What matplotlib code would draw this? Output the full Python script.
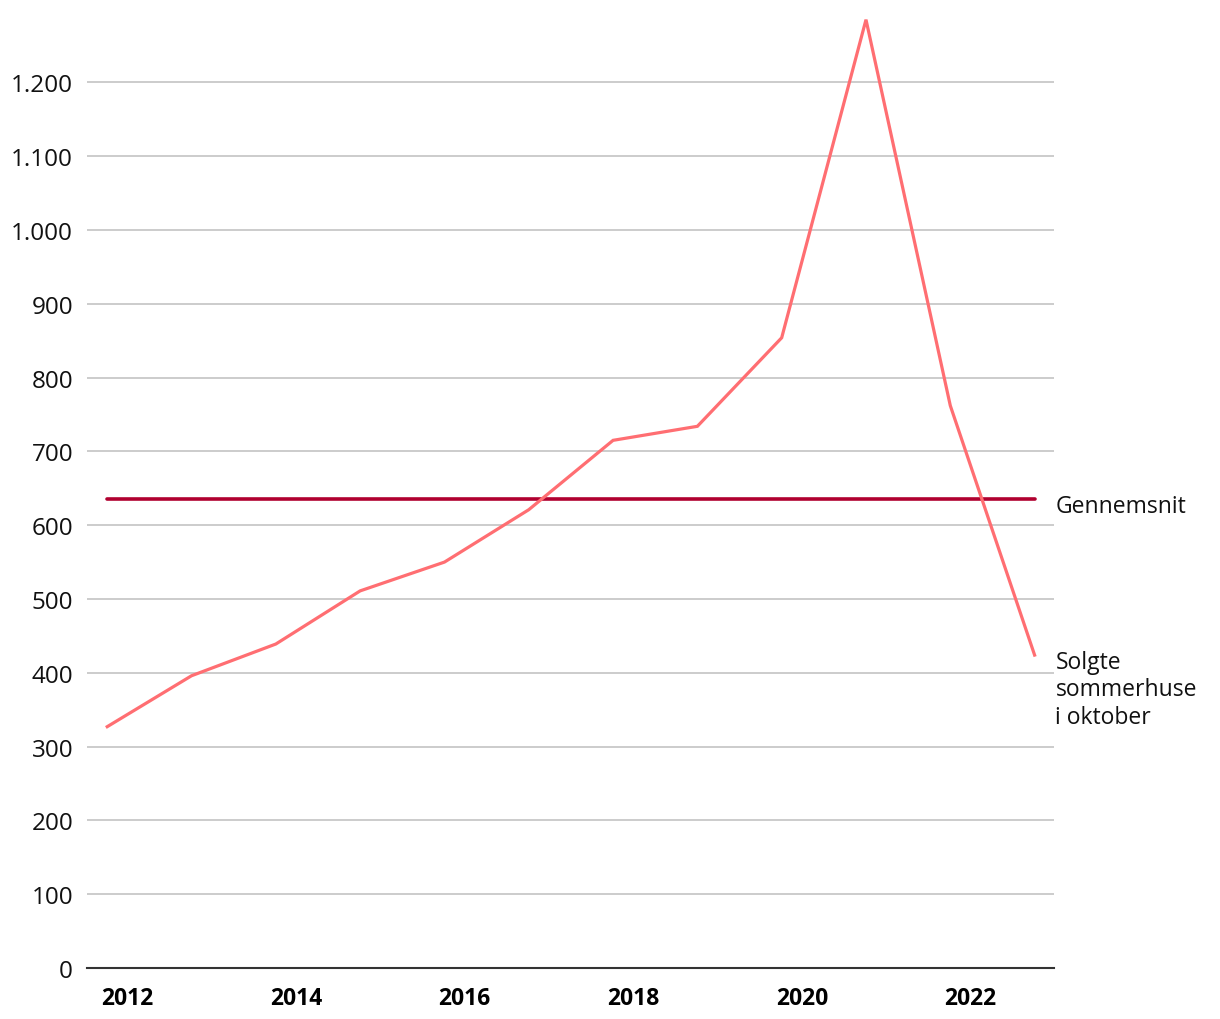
import matplotlib
matplotlib.use("Agg")
import matplotlib.pyplot as plt
import numpy as np
from matplotlib.ticker import FuncFormatter

# Solgte sommerhuse i oktober
years = [2012, 2013, 2014, 2015, 2016, 2017, 2018, 2019, 2020, 2021, 2022, 2023]
sold = [327, 396, 439, 511, 550, 621, 715, 734, 854, 1285, 762, 424]
tick_years = [2012, 2014, 2016, 2018, 2020, 2022]
y_ticks = list(range(0, 1300, 100))

avg = np.mean(sold)

plt.rcParams["font.family"] = ["Open Sans", "DejaVu Sans"]

fig = plt.figure(figsize=(12.2, 10.2), dpi=100)
W, H = 1220, 1020
left, right, bottom, top = 87, 1054, 969, 9.6
ax = fig.add_axes([left / W, (H - bottom) / H, (right - left) / W, (bottom - top) / H])

ax.set_ylim(0, 1300)
ax.set_xlim(years[0] - 0.24, years[-1] + 0.23)

ax.set_yticks(y_ticks)
ax.yaxis.set_major_formatter(FuncFormatter(lambda v, p: f"{int(v):,}".replace(",", ".")))
ax.grid(axis="y", color="#c4c4c4", lw=1.2)
ax.set_axisbelow(True)

for s in ["left", "right", "top"]:
    ax.spines[s].set_visible(False)
ax.spines["bottom"].set_color("#333333")
ax.spines["bottom"].set_linewidth(1.5)
ax.spines["bottom"].set_zorder(5)

ax.plot(years, sold, color="#ff6e72", lw=2.3, zorder=4, solid_joinstyle="miter")
ax.plot([years[0], years[-1]], [avg, avg], color="#b0002f", lw=2.6,
        solid_capstyle="round", zorder=3)

x_off = 0.24
ax.set_xticks(np.array(tick_years) + x_off)
ax.set_xticklabels([str(y) for y in tick_years], fontweight="bold", fontsize=16.5)
ax.tick_params(axis="x", length=0, pad=13)
ax.tick_params(axis="y", length=0, pad=10, labelsize=17.5, labelcolor="#111111")

ax.annotate("Gennemsnit", xy=(1.0, avg), xycoords=ax.get_yaxis_transform(),
            xytext=(1, -4.5), textcoords="offset points",
            fontsize=16.5, va="center", ha="left", color="#111111")
ax.annotate("Solgte\nsommerhuse\ni oktober", xy=(1.0, sold[-1]),
            xycoords=ax.get_yaxis_transform(), xytext=(1, 4),
            textcoords="offset points", fontsize=16.5, va="top", ha="left",
            color="#111111", linespacing=1.2)

fig.savefig("out.png", dpi=100)
